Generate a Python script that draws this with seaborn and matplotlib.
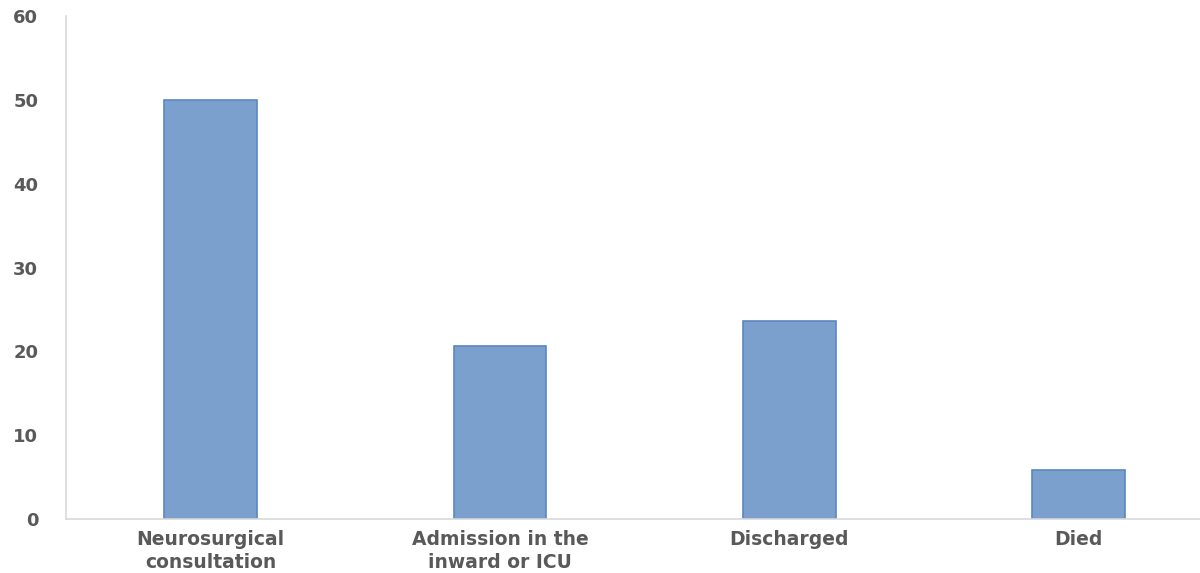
import matplotlib
matplotlib.use('Agg')
import matplotlib.pyplot as plt
import seaborn as sns
import pandas as pd

categories = ['Neurosurgical\nconsultation', 'Admission in the\ninward or ICU', 'Discharged', 'Died']
values = [50, 20.7, 23.6, 5.9]
yticks = [0, 10, 20, 30, 40, 50, 60]

df = pd.DataFrame({'category': categories, 'value': values})

sns.set_style('white')
plt.rcParams['font.family'] = ['DejaVu Sans']

fig = plt.figure(figsize=(12, 5.73), dpi=100)
ax = fig.add_axes([0.055, 0.094, 0.945, 0.878])

sns.barplot(data=df, x='category', y='value', color='#7BA0CD', saturation=1,
            width=0.32, edgecolor='#5B86C2', linewidth=1.2, ax=ax)

ax.set_ylim(0, 60)
ax.set_xlim(-0.5, 3.42)
ax.set_yticks(yticks)
ax.set_xlabel('')
ax.set_ylabel('')
ax.tick_params(axis='both', length=0, colors='#595959')
ax.tick_params(axis='y', pad=20, labelsize=13)
ax.tick_params(axis='x', pad=8, labelsize=13.5)
for lab in ax.get_xticklabels() + ax.get_yticklabels():
    lab.set_fontweight('bold')
    lab.set_linespacing(1.25)

for s in ['top', 'right']:
    ax.spines[s].set_visible(False)
for s in ['left', 'bottom']:
    ax.spines[s].set_color('#D9D9D9')
    ax.spines[s].set_linewidth(1.2)

fig.savefig('out.png', dpi=100)
